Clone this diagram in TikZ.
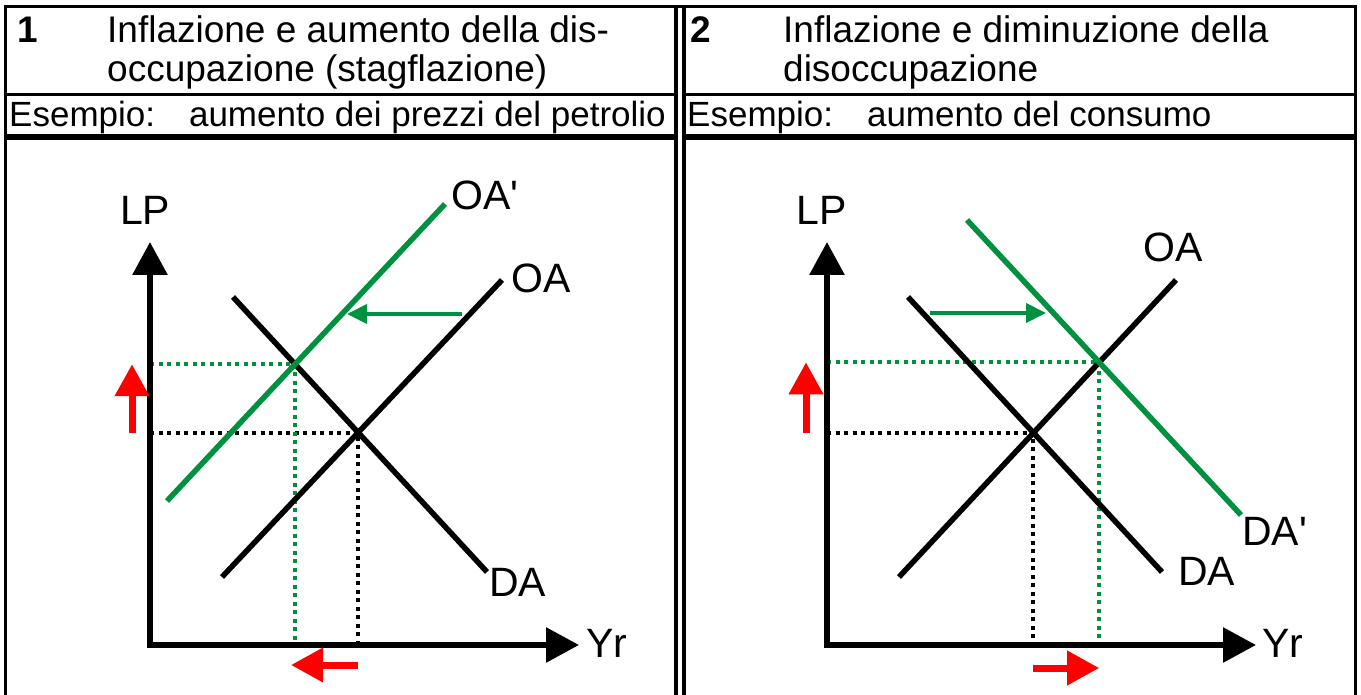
\documentclass[tikz,border=0pt]{standalone}
\usepackage{fontspec}
\setmainfont{Liberation Sans}
\usetikzlibrary{arrows.meta}
\definecolor{shiftgreen}{RGB}{0,145,64}

\begin{document}
\begin{tikzpicture}[x=1pt, y=-1pt,
    rule/.style = {line width=3pt},
    axis/.style = {line width=6pt, line cap=rect, -{Triangle[length=33pt, width=34pt]}},
    curve/.style = {line width=5.5pt},
    guide/.style = {line width=4pt, dash pattern=on 4pt off 4.5pt},
    push/.style = {line width=4pt, shiftgreen, -{Triangle[length=20pt, width=19pt]}},
    move/.style = {line width=7pt, red, -{Triangle[length=32pt, width=33pt]}},
    head/.style = {inner sep=0pt, anchor = base west, font=\fontsize{37}{42}\selectfont},
    sub/.style = {inner sep=0pt, anchor = base west, font=\fontsize{35}{40}\selectfont},
    lbl/.style = {inner sep=0pt, anchor = base west, font=\fontsize{41}{45}\selectfont}]
\useasboundingbox (0,0) rectangle (1361,695);

% table frame
\draw[rule, line join=miter] (5,695) -- (5,7) -- (1355,7) -- (1355,695);
\draw[line width=4pt] (675.5,7) -- (675.5,695);
\draw[line width=4pt] (683.5,7) -- (683.5,695);
\draw[rule] (5,95) -- (675.5,95);
\draw[rule] (683.5,95) -- (1355,95);
\draw[line width=6pt] (5,137) -- (675.5,137);
\draw[line width=6pt] (683.5,137) -- (1355,137);

% headings
\node[head] (num1) at (17,43) {\bfseries 1};
\node[head] (title1a) at (107,43) {Inflazione e aumento della dis-};
\node[head] (title1b) at (107,82) {occupazione (stagflazione)};
\node[sub] (ex1) at (9,127) {Esempio:\hspace{34pt}aumento dei prezzi del petrolio};
\node[head] (num2) at (690,43) {\bfseries 2};
\node[head] (title2a) at (783,43) {Inflazione e diminuzione della};
\node[head] (title2b) at (783,82) {disoccupazione};
\node[sub] (ex2) at (687,127) {Esempio:\hspace{34pt}aumento del consumo};

% graph 1: stagflazione
\coordinate (o1) at (150,645);
\coordinate (y1) at (150,242);
\coordinate (x1) at (579,645);
\coordinate (oa1s) at (222,577);
\coordinate (oa1e) at (502,280);
\coordinate (da1s) at (233,297);
\coordinate (da1e) at (487,572);
\coordinate (oap1s) at (167,501);
\coordinate (oap1e) at (445,204);
\coordinate (e1) at (intersection of oa1s--oa1e and da1s--da1e);
\coordinate (f1) at (intersection of oap1s--oap1e and da1s--da1e);
\coordinate (g1s) at (462,314);
\coordinate (g1e) at (347,314);
\coordinate (r1) at (132,0);
\coordinate (r1b) at (0,665);

\draw[guide] (o1 |- e1) -- (e1) -- (e1 |- o1);
\draw[guide, shiftgreen] (o1 |- f1) -- (f1) -- (f1 |- o1);
\draw[curve] (oa1s) -- (oa1e);
\draw[curve] (da1s) -- (da1e);
\draw[curve, shiftgreen] (oap1s) -- (oap1e);
\draw[push] (g1s) -- (g1e);
\draw[axis] (o1) -- (y1);
\draw[axis] (o1) -- (x1);
\draw[move] (e1 -| r1) -- (f1 -| r1);
\draw[move] (e1 |- r1b) -- ([xshift=-4pt]f1 |- r1b);

\node[lbl] (lp1) at (120,225) {LP};
\node[lbl] (yr1) at (586,657) {Yr};
\node[lbl] (oa1) at (511,293) {OA};
\node[lbl] (da1) at (489,596) {DA};
\node[lbl] (oap1) at (451,210) {OA\textquotesingle};

% graph 2: aumento della domanda
\coordinate (o2) at (827,645);
\coordinate (y2) at (827,242);
\coordinate (x2) at (1256,645);
\coordinate (oa2s) at (899,577);
\coordinate (oa2e) at (1176,280);
\coordinate (da2s) at (908,297);
\coordinate (da2e) at (1162,572);
\coordinate (dap2s) at (967,220);
\coordinate (dap2e) at (1241,515);
\coordinate (e2) at (intersection of oa2s--oa2e and da2s--da2e);
\coordinate (f2) at (intersection of oa2s--oa2e and dap2s--dap2e);
\coordinate (g2s) at (930,313);
\coordinate (g2e) at (1046,313);
\coordinate (r2) at (806,0);
\coordinate (r2b) at (0,668);

\draw[guide] (o2 |- e2) -- (e2) -- (e2 |- o2);
\draw[guide, shiftgreen] (o2 |- f2) -- (f2) -- (f2 |- o2);
\draw[curve] (oa2s) -- (oa2e);
\draw[curve] (da2s) -- (da2e);
\draw[curve, shiftgreen] (dap2s) -- (dap2e);
\draw[push] (g2s) -- (g2e);
\draw[axis] (o2) -- (y2);
\draw[axis] (o2) -- (x2);
\draw[move] (e2 -| r2) -- (f2 -| r2);
\draw[move] (e2 |- r2b) -- (f2 |- r2b);

\node[lbl] (lp2) at (796,225) {LP};
\node[lbl] (yr2) at (1262,657) {Yr};
\node[lbl] (oa2) at (1143,262) {OA};
\node[lbl] (da2) at (1178,585) {DA};
\node[lbl] (dap2) at (1242,545) {DA\textquotesingle};
\end{tikzpicture}
\end{document}
